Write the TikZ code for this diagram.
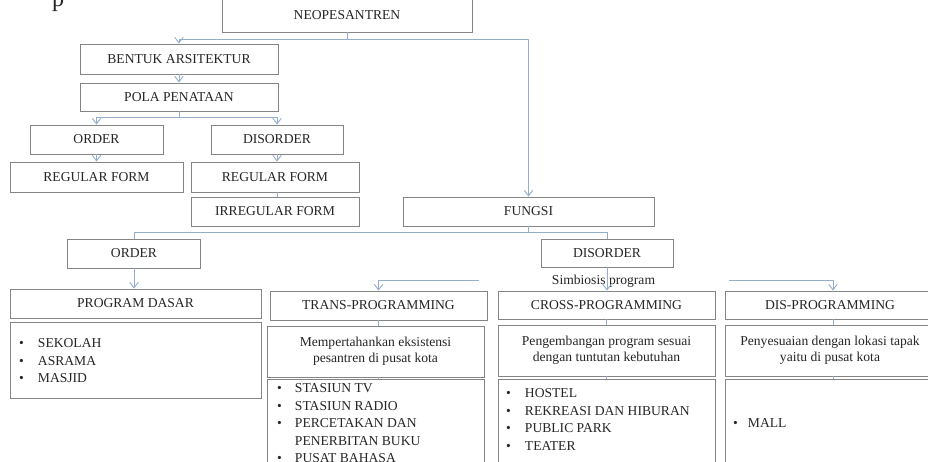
\documentclass[tikz,border=0pt]{standalone}
\usepackage{fontspec}
\setmainfont{Liberation Serif}
\usetikzlibrary{arrows.meta}
\definecolor{boxgray}{HTML}{858585}
\definecolor{txt}{HTML}{262626}
\definecolor{conn}{HTML}{95AECB}
\begin{document}
\begin{tikzpicture}[x=1pt,y=-1pt,
  box/.style={draw=boxgray,line width=0.95pt,text=txt,inner sep=0pt,
    font=\fontsize{13.6}{16}\selectfont,align=center},
  lst/.style={inner sep=0pt,text=txt,font=\fontsize{13.6}{17.5}\selectfont},
  link/.style={draw=conn,line width=0.9pt},
  arr/.style={link,-{Straight Barb[length=5.5pt,width=8.5pt]}},
  lbl/.style={fill=white,text=txt,inner xsep=0pt,inner ysep=0.5pt,text height=10pt,text depth=3pt,
    font=\fontsize{13.6}{16}\selectfont,minimum width=250pt,anchor=base}
]
\useasboundingbox (0,0) rectangle (928,461);
\clip (0,0) rectangle (928,461);
\fill[white] (0,0) rectangle (928,461);

% cut-off glyph at the top
\node[text=txt,inner sep=0pt,anchor=base,font=\fontsize{24}{26}\selectfont] (pglyph) at (58,6) {p};

% upper part
\node[box,minimum width=250pt,minimum height=34pt] (neo) at (347,15) {NEOPESANTREN};
\node[box,minimum width=198pt,minimum height=30pt] (bentuk) at (179,59) {BENTUK ARSITEKTUR};
\node[box,minimum width=198pt,minimum height=28pt] (pola) at (179,97) {POLA PENATAAN};
\node[box,minimum width=133pt,minimum height=29pt] (ordA) at (96.5,139.5) {ORDER};
\node[box,minimum width=132pt,minimum height=29pt] (disA) at (277,139.5) {DISORDER};
\node[box,minimum width=173pt,minimum height=30pt] (regA) at (96.5,177) {REGULAR FORM};
\node[box,minimum width=168pt,minimum height=30pt] (regB) at (275,177) {REGULAR FORM};
\node[box,minimum width=168pt,minimum height=29pt] (irr) at (275,211.5) {IRREGULAR FORM};
\node[box,minimum width=251pt,minimum height=29pt] (fungsi) at (528.5,211.5) {FUNGSI};

% lower part
\node[box,minimum width=133pt,minimum height=29pt] (ordB) at (134,253.5) {ORDER};
\node[box,minimum width=132pt,minimum height=28pt] (disB) at (607,253) {DISORDER};

\node[box,minimum width=251pt,minimum height=29pt] (pd) at (135.5,303.5) {PROGRAM DASAR};
\node[box,minimum width=251pt,minimum height=76pt] (pdl) at (135.5,360) {};

\node[box,minimum width=217pt,minimum height=29pt] (trans) at (378.5,305.5) {TRANS-PROGRAMMING};
\node[box,minimum width=217pt,minimum height=51pt] (transd) at (375.5,351.5)
  {Mempertahankan eksistensi\\pesantren di pusat kota};
\node[box,minimum width=217pt,minimum height=92pt] (transl) at (375.5,425) {};

\node[box,minimum width=217pt,minimum height=28pt] (cross) at (606.5,305) {CROSS-PROGRAMMING};
\node[box,minimum width=217pt,minimum height=51pt] (crossd) at (606.5,350.5)
  {Pengembangan program sesuai\\dengan tuntutan kebutuhan};
\node[box,minimum width=217pt,minimum height=92pt] (crossl) at (606.5,425) {};

\node[box,minimum width=210pt,minimum height=28pt] (dis) at (830,305) {DIS-PROGRAMMING};
\node[box,minimum width=210pt,minimum height=51pt] (disd) at (830,350.5)
  {Penyesuaian dengan lokasi tapak\\yaitu di pusat kota};
\node[box,minimum width=210pt,minimum height=92pt] (disl) at (830,425) {};

% lists
\node[lst,anchor=base west] (pdtx) at (19,347.5)
  {\begin{tabular}[t]{@{}l@{\hspace{14pt}}l@{}}\textbullet & SEKOLAH\\ \textbullet & ASRAMA\\ \textbullet & MASJID\end{tabular}};
\node[lst,anchor=base west] (transtx) at (277,392.5)
  {\begin{tabular}[t]{@{}l@{\hspace{13pt}}l@{}}\textbullet & STASIUN TV\\ \textbullet & STASIUN RADIO\\ \textbullet & PERCETAKAN DAN\\ & PENERBITAN BUKU\\ \textbullet & PUSAT BAHASA\end{tabular}};
\node[lst,anchor=base west] (crosstx) at (506,397.5)
  {\begin{tabular}[t]{@{}l@{\hspace{14pt}}l@{}}\textbullet & HOSTEL\\ \textbullet & REKREASI DAN HIBURAN\\ \textbullet & PUBLIC PARK\\ \textbullet & TEATER\end{tabular}};
\node[lst,anchor=base west] (distx) at (733,427.5)
  {\begin{tabular}[t]{@{}l@{\hspace{10pt}}l@{}}\textbullet & MALL\end{tabular}};

% connectors
\coordinate (j1) at ([yshift=-7pt]neo.south);
\draw[link] (neo.south) -- (j1);
\draw[arr] (j1) -| (bentuk.north);
\draw[arr] (j1) -| (fungsi.north);
\draw[arr] (bentuk) -- (pola);
\coordinate (j2) at ([yshift=-6pt]pola.south);
\draw[link] (pola.south) -- (j2);
\draw[arr] (j2) -| (ordA.north);
\draw[arr] (j2) -| (disA.north);
\draw[arr] (ordA) -- (regA);
\draw[arr] (disA.south) -- (disA.south |- regB.north);
\draw[link] (disA.south |- regB.south) -- (disA.south |- irr.north);

\coordinate (j3) at ([yshift=-6pt]fungsi.south);
\draw[link] (fungsi.south) -- (j3);
\draw[link] (j3) -| (ordB.north);
\draw[link] (j3) -| (disB.north);
\draw[arr] (ordB.south) -- (ordB.south |- pd.north);

\coordinate (j4) at (607,280);
\draw[arr] (j4) -| (trans.north);
\draw[arr] (j4) -| ([xshift=3pt]dis.north);
\node[lbl] (simb) at (603.5,284) {Simbiosis program};
\draw[arr] (disB.south) -- (disB.south |- cross.north);

\draw[link] (trans.south) -- (trans.south |- transd.north);
\draw[link] (trans.south |- transd.south) -- (trans.south |- transl.north);
\draw[link] (cross.south) -- (cross.south |- crossd.north);
\draw[link] (cross.south |- crossd.south) -- (cross.south |- crossl.north);
\draw[link] ([xshift=3pt]dis.south) -- ([xshift=3pt]dis.south |- disd.north);
\draw[link] ([xshift=3pt]dis.south |- disd.south) -- ([xshift=3pt]dis.south |- disl.north);
\end{tikzpicture}
\end{document}
